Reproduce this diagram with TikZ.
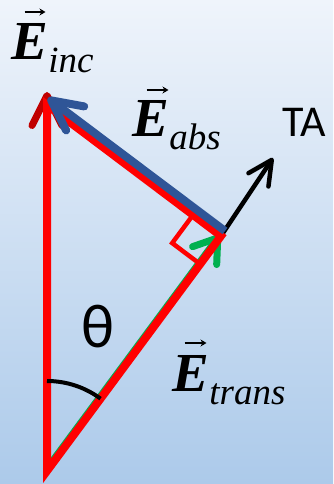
\documentclass[tikz,border=0pt]{standalone}
\usepackage{fontspec}
\setmainfont{Liberation Serif}
\newfontfamily\calib{Carlito}
\usetikzlibrary{arrows.meta,calc}
\definecolor{bgtop}{RGB}{239,244,251}
\definecolor{bgbot}{RGB}{172,202,234}
\definecolor{dred}{RGB}{192,0,0}
\definecolor{pblue}{RGB}{47,85,151}
\definecolor{pgreen}{RGB}{0,176,80}
\newcommand{\bigE}{{\bfseries\itshape E}}
\newcommand{\subtxt}[1]{\raisebox{-13pt}{\fontsize{37}{40}\selectfont\itshape #1}}
\begin{document}
\begin{tikzpicture}[x=1pt,y=1pt,
  barb/.style={-{Straight Barb[length=#1,width=30pt,round]}},
  lbl/.style={anchor=base west,inner sep=0pt,font=\fontsize{55}{60}\selectfont},
  vecarrow/.style={black,line width=1.6pt,-{Stealth[length=6pt,width=7pt]}},
  sans/.style={inner sep=0pt,font=\calib\fontsize{44}{50}\selectfont}]
\shade[top color=bgtop,bottom color=bgbot] (0,0) rectangle (333,484);
\useasboundingbox (0,0) rectangle (333,484);
\coordinate (B) at (47,13);
\coordinate (T) at (47,379);
\coordinate (R) at (221,248);
\coordinate (Rtip) at (47,392);
\coordinate (Btip) at (48,386);
\coordinate (TAtip) at (273,326);
% TA arrow
\draw[black,line width=4.5pt,-{Straight Barb[length=24pt,width=24pt,round]}] (R) -- (TAtip);
% E_inc arrow (dark red)
\draw[dred,line width=7pt,barb=30pt] (B) -- (Rtip);
% E_trans arrow (green)
\draw[pgreen,line width=7pt,barb=22pt] ($(B)+(-1.2,0.9)$) -- ($(R)+(-1.2,0.9)$);
% red triangle
\draw[red,line width=8pt,miter limit=10] (B) -- (T) -- (R) -- cycle;
% right angle mark
\coordinate (S1) at ($(R)!35pt!(T)$);
\coordinate (S2) at ($(R)!35pt!(B)$);
\coordinate (S3) at ($(S1)+(S2)-(R)$);
\draw[red,line width=4.5pt] (S1) -- (S3) -- (S2);
% E_abs arrow (blue)
\draw[pblue,line width=8pt,barb=30pt] ($(R)+(4,5)$) -- (Btip);
% angle arc
\draw[black,line width=4pt] ($(B)+(0,90)$) arc[start angle=90,end angle=53.5,radius=90pt];
% labels
\node[lbl] (Einc) at (11.5,424) {\bigE\subtxt{inc}};
\node[lbl] (Eabs) at (132.5,347) {\bigE\subtxt{abs}};
\node[lbl] (Etrans) at (172.5,92) {\bigE\subtxt{trans}};
\draw[vecarrow] ($(Einc.base west)+(13,48)$) -- ++(21,0);
\draw[vecarrow] ($(Eabs.base west)+(14,47)$) -- ++(22,0);
\draw[vecarrow] ($(Etrans.base west)+(12,49)$) -- ++(22,0);
\node[sans,anchor=base west] (TA) at (282,347) {TA};
\node[inner sep=0pt,font=\calib\fontsize{62}{70}\selectfont] (theta) at (97.5,157.5) {θ};
\end{tikzpicture}
\end{document}
